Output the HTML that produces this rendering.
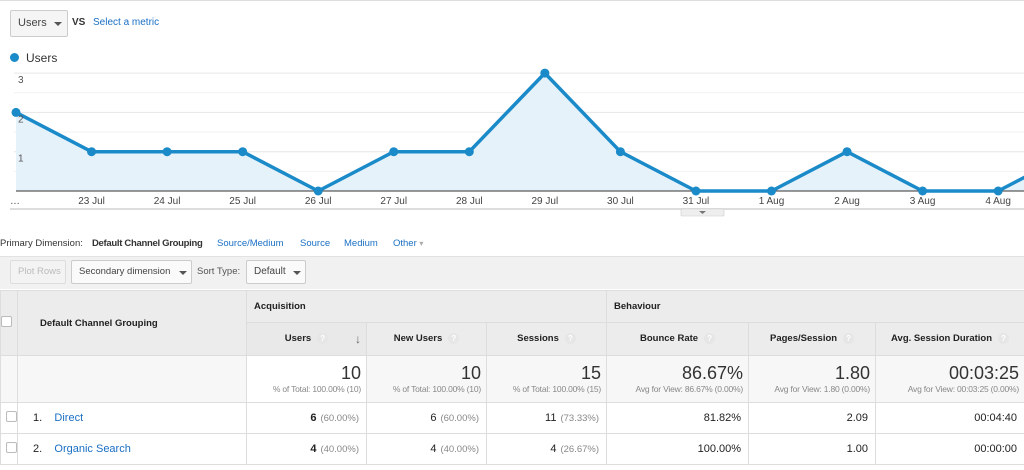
<!DOCTYPE html>
<html><head><meta charset="utf-8">
<style>
*{box-sizing:border-box;margin:0;padding:0;white-space:nowrap}
body{width:1024px;height:470px;overflow:hidden;background:#fff;font-family:"Liberation Sans",Arial,sans-serif;color:#222;position:relative}
.abs{position:absolute}
.btn{position:absolute;border:1px solid #ccc;border-radius:2px;background:#f5f5f5;font-size:10px;color:#444;padding-left:7px;line-height:22px;overflow:hidden}
.caret{position:absolute;width:0;height:0;border-left:4px solid transparent;border-right:4px solid transparent;border-top:4px solid #555}
.link{color:#1a6fc4}
table{position:absolute;left:0;top:290px;width:1024px;border-collapse:collapse;font-size:9.5px;table-layout:fixed}
td,th{border:1px solid #ddd;padding:0 7px;overflow:hidden}
th{background:#ececec;font-weight:bold;color:#222}
.q{display:inline-block;width:11px;height:11px;border-radius:50%;background:#e6e6e6;color:#fff;font-size:8px;text-align:center;line-height:11px;margin-left:6px;vertical-align:middle}
.tot td{background:#f7f7f7;text-align:right;vertical-align:top}
.tot .big{font-size:18px;color:#333;margin-top:7px;line-height:20px}
.tot .sm{font-size:8.5px;color:#888;line-height:12px;letter-spacing:-0.2px}
.row td{text-align:right;font-size:11px;height:31px}
.pct{color:#888;font-size:9.5px;margin-left:4px}
.cb{display:inline-block;width:11px;height:11px;border:1px solid #bbb;border-radius:2px;background:#fff}
</style></head><body>
<div class="abs" style="left:0;top:0;width:1024px;height:1px;background:#ddd"></div>
<div class="btn" style="left:10px;top:10px;width:58px;height:27px;line-height:25px;font-size:11px">Users<span class="caret" style="left:43px;top:11px"></span></div>
<div class="abs" style="left:72px;top:17px;font-size:10px;font-weight:bold;color:#333">VS</div>
<div class="abs link" style="left:93px;top:17px;font-size:10px">Select a metric</div>
<div class="abs" style="left:10px;top:53px;width:9px;height:9px;border-radius:50%;background:#1a8ac9"></div>
<div class="abs" style="left:26px;top:51px;font-size:12px;color:#333">Users</div>

<svg class="abs" style="left:0;top:0" width="1024" height="225">
<g id="grid"></g><g id="series"></g><g id="labels"></g>
<line x1="10" y1="209" x2="1024" y2="209" stroke="#ddd" stroke-width="2"/>
<rect x="681" y="209" width="43" height="7" fill="#eee" stroke="#ccc" stroke-width="0.6" rx="1"/>
<path d="M699 211 L706 211 L702.5 214 Z" fill="#777"/>
</svg>

<div class="abs" style="left:0;top:238px;font-size:9.5px;color:#333">Primary Dimension:</div>
<div class="abs" style="left:92px;top:238px;font-size:9.5px;font-weight:bold;color:#333;letter-spacing:-0.3px">Default Channel Grouping</div>
<div class="abs link" style="left:217px;top:238px;font-size:9.5px">Source/Medium</div>
<div class="abs link" style="left:300px;top:238px;font-size:9.5px">Source</div>
<div class="abs link" style="left:344px;top:238px;font-size:9.5px">Medium</div>
<div class="abs link" style="left:393px;top:238px;font-size:9.5px">Other <span style="color:#aaa;font-size:8px">▾</span></div>

<div class="abs" style="left:0;top:256px;width:1024px;height:33px;background:#f1f1f1;border-top:1px solid #e2e2e2"></div>
<div class="btn" style="left:10px;top:260px;width:56px;height:24px;color:#bbb;background:#f3f3f3;border-color:#ddd;font-size:9.5px">Plot Rows</div>
<div class="btn" style="left:71px;top:260px;width:121px;height:24px;background:#fafafa;font-size:9.5px">Secondary dimension<span class="caret" style="left:107px;top:10px"></span></div>
<div class="abs" style="left:197px;top:266px;font-size:9.5px;color:#555">Sort Type:</div>
<div class="btn" style="left:246px;top:260px;width:60px;height:24px;background:#fafafa">Default<span class="caret" style="left:46px;top:10px"></span></div>

<table>
<colgroup><col style="width:17px"><col style="width:229px"><col style="width:120px"><col style="width:120px"><col style="width:120px"><col style="width:142px"><col style="width:127px"><col style="width:149px"></colgroup>
<tr style="height:32px"><th rowspan="2" style="padding:0"><span class="cb" style="margin-left:-6px"></span></th>
<th rowspan="2" style="text-align:left;padding-left:22px">Default Channel Grouping</th>
<th colspan="3" style="text-align:left">Acquisition</th>
<th colspan="3" style="text-align:left">Behaviour</th></tr>
<tr style="height:33px">
<th style="position:relative;background:#e9e9e9">Users<span class="q">?</span><span style="position:absolute;right:5px;top:9px;font-size:12px;color:#666">↓</span></th>
<th>New Users<span class="q">?</span></th>
<th>Sessions<span class="q">?</span></th>
<th>Bounce Rate<span class="q">?</span></th>
<th>Pages/Session<span class="q">?</span></th>
<th>Avg. Session Duration<span class="q">?</span></th></tr>
<tr class="tot" style="height:47px"><td></td><td></td>
<td style="background:#fff;padding:0 5px"><div class="big">10</div><div class="sm">% of Total: 100.00% (10)</div></td>
<td style="padding:0 5px"><div class="big">10</div><div class="sm">% of Total: 100.00% (10)</div></td>
<td style="padding:0 5px"><div class="big">15</div><div class="sm">% of Total: 100.00% (15)</div></td>
<td style="padding:0 5px"><div class="big">86.67%</div><div class="sm">Avg for View: 86.67% (0.00%)</div></td>
<td style="padding:0 5px"><div class="big">1.80</div><div class="sm">Avg for View: 1.80 (0.00%)</div></td>
<td style="padding:0 5px"><div class="big">00:03:25</div><div class="sm">Avg for View: 00:03:25 (0.00%)</div></td></tr>
<tr class="row"><td style="padding:0"><span class="cb" style="margin-left:-6px"></span></td>
<td style="text-align:left;padding-left:15px">1.&nbsp;&nbsp;&nbsp;&nbsp;<span class="link">Direct</span></td>
<td><b>6</b><span class="pct">(60.00%)</span></td><td>6<span class="pct">(60.00%)</span></td><td>11<span class="pct">(73.33%)</span></td><td>81.82%</td><td>2.09</td><td>00:04:40</td></tr>
<tr class="row"><td style="padding:0"><span class="cb" style="margin-left:-6px"></span></td>
<td style="text-align:left;padding-left:15px">2.&nbsp;&nbsp;&nbsp;&nbsp;<span class="link">Organic Search</span></td>
<td><b>4</b><span class="pct">(40.00%)</span></td><td>4<span class="pct">(40.00%)</span></td><td>4<span class="pct">(26.67%)</span></td><td>100.00%</td><td>1.00</td><td>00:00:00</td></tr>
</table>

<script>
const categories=["…","23 Jul","24 Jul","25 Jul","26 Jul","27 Jul","28 Jul","29 Jul","30 Jul","31 Jul","1 Aug","2 Aug","3 Aug","4 Aug","5 Aug"];
const users=[2,1,1,1,0,1,1,3,1,0,0,1,0,0,1];
const yTicks=[1,2,3];
const NS="http://www.w3.org/2000/svg";
const x0=16,step=75.55,yBase=191,yUnit=39.3;
function xs(i){return x0+i*step;}
function ys(v){return yBase-v*yUnit;}
function mk(tag,attrs,parent){const e=document.createElementNS(NS,tag);for(const k in attrs)e.setAttribute(k,attrs[k]);parent.appendChild(e);return e;}
const grid=document.getElementById('grid'),ser=document.getElementById('series'),lab=document.getElementById('labels');
for(let v=0.5;v<=3;v+=0.5){
  const g=mk('line',{x1:14,x2:1024,y1:ys(v),y2:ys(v),stroke:v%1===0?'#e6e6e6':'#f2f2f2','stroke-width':1},grid);
  
  
}
yTicks.forEach(v=>{
  const t=mk('text',{x:18,y:ys(v)+10,'font-size':10,fill:'#555','font-family':'Liberation Sans, sans-serif'},lab);
  t.textContent=v;
  
  
});
let pts=users.map((v,i)=>xs(i)+','+ys(v)).join(' ');
const area=mk('polygon',{points:xs(0)+','+yBase+' '+pts+' '+xs(users.length-1)+','+yBase,fill:'#e6f2fa'},ser);


const base=mk('line',{x1:16,x2:1024,y1:yBase,y2:yBase,stroke:'#333','stroke-width':1},ser);


const line=mk('polyline',{points:pts,fill:'none',stroke:'#1a8ac9','stroke-width':3.5,'stroke-linejoin':'round'},ser);


users.forEach((v,i)=>{
  const c=mk('circle',{cx:xs(i),cy:ys(v),r:4.5,fill:'#1a8ac9'},ser);
  
  
});
categories.forEach((c,i)=>{
  const t=mk('text',{x:i===0?10:xs(i),y:204,'font-size':10,fill:'#444','text-anchor':i===0?'start':'middle','font-family':'Liberation Sans, sans-serif'},lab);
  t.textContent=c;
  
  
});
</script>
</body></html>
